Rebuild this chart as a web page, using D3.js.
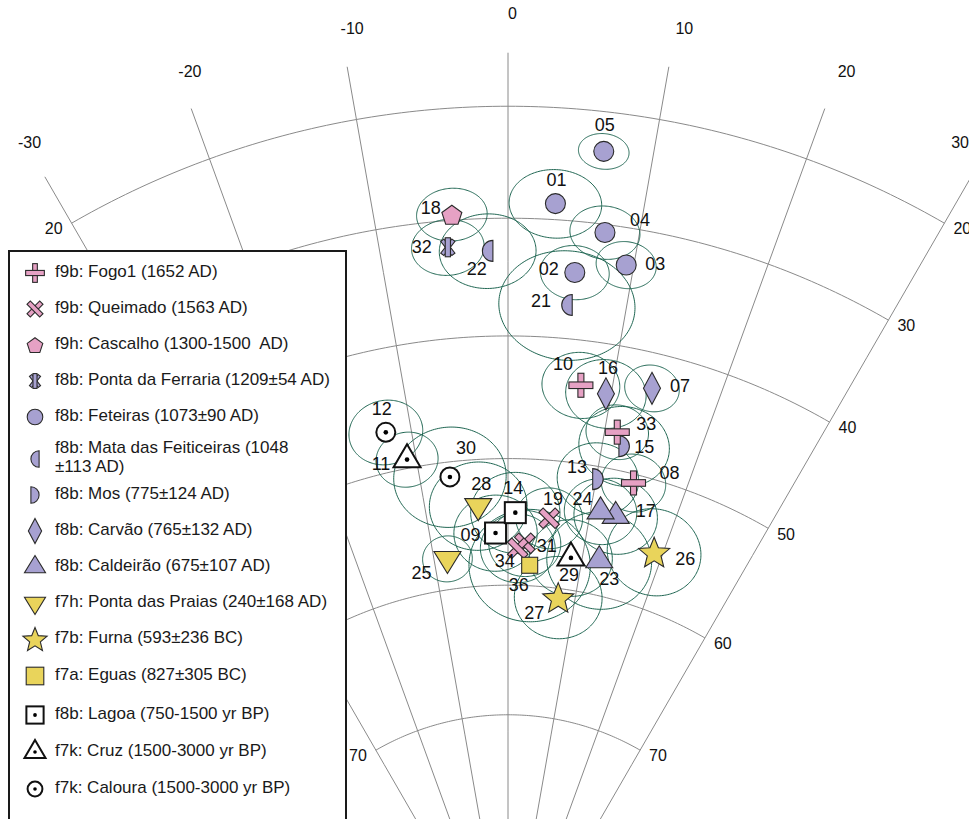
<!DOCTYPE html>
<html>
<head>
<meta charset="utf-8">
<script src="https://cdn.jsdelivr.net/npm/d3@7/dist/d3.min.js"></script>
<style>
  html, body { margin: 0; padding: 0; background: #fff; }
  svg { display: block; font-family: "Liberation Sans", Arial, sans-serif; }
  text { white-space: pre; }
</style>
</head>
<body>
<svg id="chart" width="969" height="819"></svg>
<script>
// Site directions: declination / inclination (degrees) and alpha95 confidence cone
const sites       = ["01","02","03","04","05","07","08","09","10","11","12","13","14","15","16","17","18","19","21","22","23","24","25","26","27","28","29","30","31","32","33","34","36"];
const siteType    = ["feteiras","feteiras","feteiras","feteiras","feteiras","carvao","fogo","lagoa","fogo","cruz","caloura","mos","lagoa","mos","carvao","caldeirao","cascalho","queimado","mata","mata","caldeirao","caldeirao","praias","furna","furna","praias","cruz","caloura","queimado","ferraria","fogo","queimado","eguas"];
const declination = [3.5, 5.4, 9.4, 7.4, 6.6, 13.7, 14.2, -1.6, 7.0, -11.0, -12.6, 10.2, 0.9, 12.3, 9.5, 13.1, -4.2, 5.1, 5.0, -1.6, 12.3, 11.2, -8.2, 18.9, 7.5, -3.6, 8.5, -6.6, 2.2, -4.7, 11.3, 1.3, 3.0];
const inclination = [28.6, 34.4, 33.2, 30.7, 23.6, 42.9, 50.7, 55.9, 43.7, 49.3, 46.8, 51.0, 54.3, 48.0, 44.1, 53.6, 29.5, 54.6, 37.2, 32.8, 57.3, 53.5, 57.6, 55.5, 60.7, 53.7, 57.5, 51.2, 56.7, 32.3, 47.0, 57.1, 58.4];
const alpha95     = [3.0, 2.3, 2.0, 2.3, 1.6, 1.9, 2.3, 3.0, 2.7, 2.2, 2.6, 2.9, 3.2, 3.2, 2.8, 3.0, 2.3, 2.4, 4.6, 3.2, 3.8, 2.6, 1.8, 3.4, 3.2, 3.5, 3.0, 4.0, 2.6, 2.4, 2.2, 2.7, 4.4];

// Legend entries (symbol key and text lines)
const legendKeys   = ["fogo","queimado","cascalho","ferraria","feteiras","mata","mos","carvao","caldeirao","praias","furna","eguas","lagoa","cruz","caloura"];
const legendLabels = [
  ["f9b: Fogo1 (1652 AD)"],
  ["f9b: Queimado (1563 AD)"],
  ["f9h: Cascalho (1300-1500  AD)"],
  ["f8b: Ponta da Ferraria (1209±54 AD)"],
  ["f8b: Feteiras (1073±90 AD)"],
  ["f8b: Mata das Feiticeiras (1048", "±113 AD)"],
  ["f8b: Mos (775±124 AD)"],
  ["f8b: Carvão (765±132 AD)"],
  ["f8b: Caldeirão (675±107 AD)"],
  ["f7h: Ponta das Praias (240±168 AD)"],
  ["f7b: Furna (593±236 BC)"],
  ["f7a: Eguas (827±305 BC)"],
  ["f8b: Lagoa (750-1500 yr BP)"],
  ["f7k: Cruz (1500-3000 yr BP)"],
  ["f7k: Caloura (1500-3000 yr BP)"]
];

// Grid ticks
const decTicks = [-30, -20, -10, 0, 10, 20, 30];
const incTicks = [20, 30, 40, 50, 60, 70];

// ---- layout ----
const W = 969, H = 819;
const labelOffset = {
  "01":[1,-22],"02":[-26,-2],"03":[29,0],"04":[35,-11],"05":[1,-25],"07":[28,-1],"08":[36,-9],
  "09":[-25,3],"10":[-18,-20],"11":[-26,6],"12":[-4,-22],"13":[-21,-11],"14":[-2,-23],"15":[20,2],
  "16":[2,-25],"17":[30,-4],"18":[-21,-5],"19":[4,-18],"21":[-26,-3],"22":[-11,19],"23":[10,20],
  "24":[-18,-11],"25":[-26,15],"26":[31,8],"27":[-24,17],"28":[3,-21],"29":[-2,18],"30":[16,-28],
  "31":[22,4],"32":[-26,1],"33":[29,-7],"34":[-13,14],"36":[-11,21]
};
const legendBox = { x: 9, y: 251, w: 337, h: 620 };
const legendRowY = [273, 309, 345, 381, 417, 449, 495, 531, 567, 603, 639, 676, 715, 752, 789];
const legendScale = { eguas: 1.1, lagoa: 0.82 };

const PINK = "#e6a1c4", PURPLE = "#a7a1d1", YELLOW = "#e9d45b", EDGE = "#2a2a2a";
const GRID = "#8a8a8a", CONE = "#1f6652";

// Equal-area polar projection: inclination 90 at the centre, declination clockwise from up
const projection = d3.geoAzimuthalEqualArea()
  .rotate([0, -90])
  .reflectY(true)
  .scale(760.8)
  .translate([508, 979]);
const path = d3.geoPath(projection);

const svg = d3.select("#chart");
svg.append("rect").attr("width", W).attr("height", H).attr("fill", "#fff");

// Meridians
const grid = svg.append("g").attr("fill", "none").attr("stroke", GRID).attr("stroke-width", 1);
decTicks.forEach(d => {
  grid.append("path").attr("d", path({type: "LineString", coordinates: [[d, 90], [d, 15]]}));
});
// Parallels
incTicks.forEach(i => {
  grid.append("path").attr("d", path({type: "LineString", coordinates: d3.range(-30, 30.001, 0.5).map(d => [d, i])}));
});

// Declination labels
const axisText = svg.append("g").attr("font-size", 16).attr("fill", "#111");
decTicks.forEach(d => {
  const p = projection([d, 11.38]);
  const t = axisText.append("text").attr("x", p[0]).attr("y", p[1])
    .attr("dominant-baseline", "middle").text(d);
  const w = t.node().getComputedTextLength();
  if (p[0] + w > W) t.attr("x", W - w);
  if (d < -25) t.attr("x", p[0] - 8);
});
// Inclination labels at the ends of each parallel (left ones only where the legend leaves room)
const underLegend = (x, y) => x < legendBox.x + legendBox.w && y > legendBox.y;
incTicks.forEach(i => {
  const pr = projection([30, i]);
  const pl = projection([-30, i]);
  axisText.append("text").attr("x", pr[0] + 9).attr("y", pr[1] + 7)
    .attr("dominant-baseline", "middle").text(i);
  if (!underLegend(pl[0] - 9, pl[1] - 5)) {
    axisText.append("text").attr("x", pl[0] - 9).attr("y", pl[1] + 7)
      .attr("text-anchor", "end").attr("dominant-baseline", "middle").text(i);
  }
});

// alpha95 cones
const cones = svg.append("g").attr("fill", "none").attr("stroke", CONE).attr("stroke-width", 1);
sites.forEach((s, k) => {
  const circle = d3.geoCircle().center([declination[k], inclination[k]]).radius(alpha95[k]).precision(2)();
  cones.append("path").attr("d", path(circle));
});

// Marker shapes
function polygon(pts) { return "M" + pts.map(p => p[0].toFixed(2) + "," + p[1].toFixed(2)).join("L") + "Z"; }

function drawMarker(g, type, s) {
  const thin = { stroke: EDGE, "stroke-width": 1.1 };
  const apply = (sel, attrs) => { Object.entries(attrs).forEach(([k, v]) => sel.attr(k, v)); return sel; };
  const dot = () => g.append("circle").attr("r", 2.3 * s).attr("fill", "#000");
  if (type === "fogo") {
    apply(g.append("rect").attr("x", -3 * s).attr("y", -12 * s).attr("width", 6 * s).attr("height", 24 * s).attr("fill", PINK), thin);
    apply(g.append("rect").attr("x", -12 * s).attr("y", -3.3 * s).attr("width", 24 * s).attr("height", 6.6 * s).attr("fill", PINK), thin);
  } else if (type === "queimado") {
    [45, -45].forEach(a => apply(g.append("rect").attr("x", -3 * s).attr("y", -11.5 * s).attr("width", 6 * s)
      .attr("height", 23 * s).attr("fill", PINK).attr("transform", `rotate(${a})`), thin));
  } else if (type === "cascalho") {
    const R = 10.5 * s;
    apply(g.append("path").attr("d", polygon(d3.range(5).map(k => {
      const a = (-90 + 72 * k) * Math.PI / 180; return [R * Math.cos(a), R * Math.sin(a) + 1.2 * s];
    }))).attr("fill", PINK), thin);
  } else if (type === "ferraria") {
    [38, -38].forEach(a => apply(g.append("rect").attr("x", -2 * s).attr("y", -9 * s).attr("width", 4 * s)
      .attr("height", 18 * s).attr("fill", PURPLE).attr("transform", `rotate(${a})`), thin));
    apply(g.append("rect").attr("x", -2.6 * s).attr("y", -9.5 * s).attr("width", 5.2 * s).attr("height", 19 * s).attr("fill", PURPLE), thin);
  } else if (type === "feteiras") {
    apply(g.append("circle").attr("r", 10 * s).attr("fill", PURPLE), thin);
  } else if (type === "mata" || type === "mos") {
    const r = 10.5 * s, c = (type === "mata" ? 1 : -1) * r / 2;
    const sweep = type === "mata" ? 0 : 1;
    apply(g.append("path").attr("d", `M${c},${-r}A${r},${r} 0 0 ${sweep} ${c},${r}Z`).attr("fill", PURPLE), thin);
  } else if (type === "carvao") {
    apply(g.append("path").attr("d", polygon([[0, -16 * s], [8.5 * s, 0], [0, 16 * s], [-8.5 * s, 0]])).attr("fill", PURPLE), thin);
  } else if (type === "caldeirao") {
    apply(g.append("path").attr("d", polygon([[0, -14.7 * s], [13.5 * s, 7.3 * s], [-13.5 * s, 7.3 * s]])).attr("fill", PURPLE), thin);
  } else if (type === "praias") {
    apply(g.append("path").attr("d", polygon([[0, 14.7 * s], [13.5 * s, -7.3 * s], [-13.5 * s, -7.3 * s]])).attr("fill", YELLOW), thin);
  } else if (type === "furna") {
    const pts = d3.range(10).map(k => {
      const a = (-90 + 36 * k) * Math.PI / 180, rr = (k % 2 === 0 ? 16.3 : 7.2) * s;
      return [rr * Math.cos(a), rr * Math.sin(a) + 1.5 * s];
    });
    apply(g.append("path").attr("d", polygon(pts)).attr("fill", YELLOW), thin);
  } else if (type === "eguas") {
    apply(g.append("rect").attr("x", -8 * s).attr("y", -8 * s).attr("width", 16 * s).attr("height", 16 * s).attr("fill", YELLOW), thin);
  } else if (type === "lagoa") {
    g.append("rect").attr("x", -10.5 * s).attr("y", -10.5 * s).attr("width", 21 * s).attr("height", 21 * s)
      .attr("fill", "#fff").attr("stroke", "#111").attr("stroke-width", 2);
    dot();
  } else if (type === "cruz") {
    g.append("path").attr("d", polygon([[0, -15.3 * s], [13.5 * s, 7.7 * s], [-13.5 * s, 7.7 * s]]))
      .attr("fill", "#fff").attr("stroke", "#111").attr("stroke-width", 2).attr("stroke-linejoin", "miter");
    dot();
  } else if (type === "caloura") {
    g.append("circle").attr("r", 9.5 * s).attr("fill", "#fff").attr("stroke", "#111").attr("stroke-width", 2);
    dot();
  }
}

// Site markers
const marks = svg.append("g");
sites.forEach((s, k) => {
  const p = projection([declination[k], inclination[k]]);
  const g = marks.append("g").attr("transform", `translate(${p[0]},${p[1]})`);
  drawMarker(g, siteType[k], 1);
});

// Site labels
const labels = svg.append("g").attr("font-size", 18).attr("fill", "#111")
  .attr("text-anchor", "middle").attr("dominant-baseline", "middle");
sites.forEach((s, k) => {
  const p = projection([declination[k], inclination[k]]);
  const o = labelOffset[s];
  labels.append("text").attr("x", p[0] + o[0]).attr("y", p[1] + o[1]).text(s);
});

// Legend
const legend = svg.append("g");
legend.append("rect").attr("x", legendBox.x).attr("y", legendBox.y).attr("width", legendBox.w).attr("height", legendBox.h)
  .attr("fill", "#fff").attr("stroke", "#1a1a1a").attr("stroke-width", 2);
legendKeys.forEach((key, k) => {
  const y = legendRowY[k];
  const lines = legendLabels[k];
  const symY = lines.length > 1 ? y + 10 : y;
  drawMarker(legend.append("g").attr("transform", `translate(35,${symY})`), key, legendScale[key] || 0.78);
  lines.forEach((line, j) => {
    legend.append("text").attr("x", 55).attr("y", y + j * 19)
      .attr("font-size", 17).attr("fill", "#1a1a1a").attr("dominant-baseline", "middle").text(line);
  });
});
</script>
</body>
</html>
